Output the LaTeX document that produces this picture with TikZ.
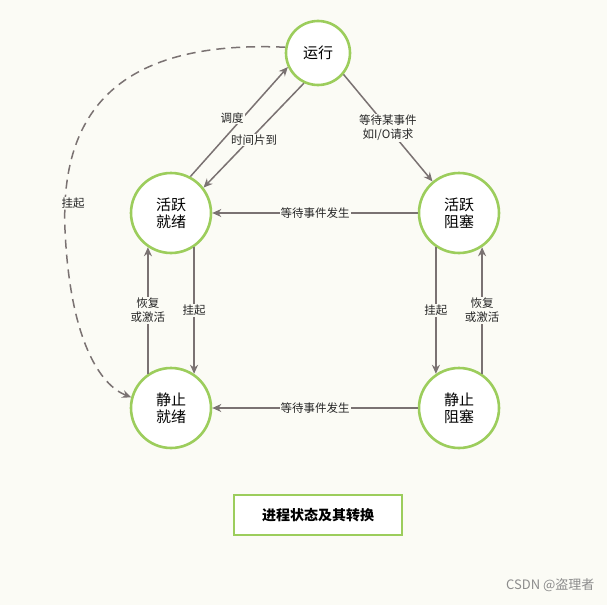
\documentclass[tikz,border=0pt]{standalone}
\usepackage{fontspec}
\setmainfont{Noto Sans CJK SC}
\usetikzlibrary{arrows.meta}
\definecolor{bgc}{HTML}{FBFBF5}
\definecolor{ringc}{HTML}{9CCD5C}
\definecolor{linec}{HTML}{7A7272}
\tikzset{
  state/.style={circle,draw=ringc,line width=2.6pt,fill=white,minimum size=80pt,inner sep=0pt,align=center,font=\fontsize{15}{17}\selectfont},
  trans/.style={draw=linec,line width=1.5pt,-{Stealth[length=9pt,width=8pt]}},
  lbl/.style={fill=bgc,inner sep=1pt,align=center,font=\fontsize{11.5}{14}\selectfont,text=black!85}
}
\begin{document}
\begin{tikzpicture}[x=1pt,y=-1pt]
\fill[bgc] (0,0) rectangle (607,605);
\useasboundingbox (0,0) rectangle (607,605);
%states
\node[state,minimum size=64pt] (run) at (318,53) {运行};
\node[state] (ar) at (171,213) {活跃\\就绪};
\node[state] (ab) at (459,213) {活跃\\阻塞};
\node[state] (sr) at (171,408) {静止\\就绪};
\node[state] (sb) at (459,408) {静止\\阻塞};
%transitions
\draw[trans] (ar.62) -- (run.205);
\draw[trans] (run.245) -- (ar.38);
\node[lbl] (sched) at (232,118) {调度};
\node[lbl] (slice) at (254,140) {时间片到};
\draw[trans] (run.-40) -- (ab.130) node[lbl,pos=0.5] {等待某事件\\如I/O请求};
\draw[trans] (ab) -- (ar) node[lbl,midway] {等待事件发生};
\draw[trans] (sb) -- (sr) node[lbl,midway] {等待事件发生};
\draw[trans] (ar.-56.8) -- (sr.56.8) node[lbl,midway] {挂起};
\draw[trans] (sr.124.8) -- (ar.-124.8) node[lbl,midway] {恢复\\或激活};
\draw[trans] (ab.-124.8) -- (sb.124.8) node[lbl,midway] {挂起};
\draw[trans] (sb.56.8) -- (ab.-56.8) node[lbl,midway] {恢复\\或激活};
\draw[trans,dash pattern=on 9pt off 6pt] (run.170) .. controls (120,40) and (60,110) .. (65,230)
  .. controls (70,340) and (100,385) .. (sr.165);
\node[lbl] (hang) at (73,203) {挂起};
%caption
\node[draw=ringc,line width=2.2pt,fill=white,minimum width=168pt,minimum height=40pt,font=\fontsize{14}{16}\selectfont\bfseries] (cap) at (318,515) {进程状态及其转换};
\node[text=black!45,font=\fontsize{13}{15}\selectfont,anchor=east] (mark) at (598,585) {CSDN @盗理者};
\end{tikzpicture}
\end{document}
